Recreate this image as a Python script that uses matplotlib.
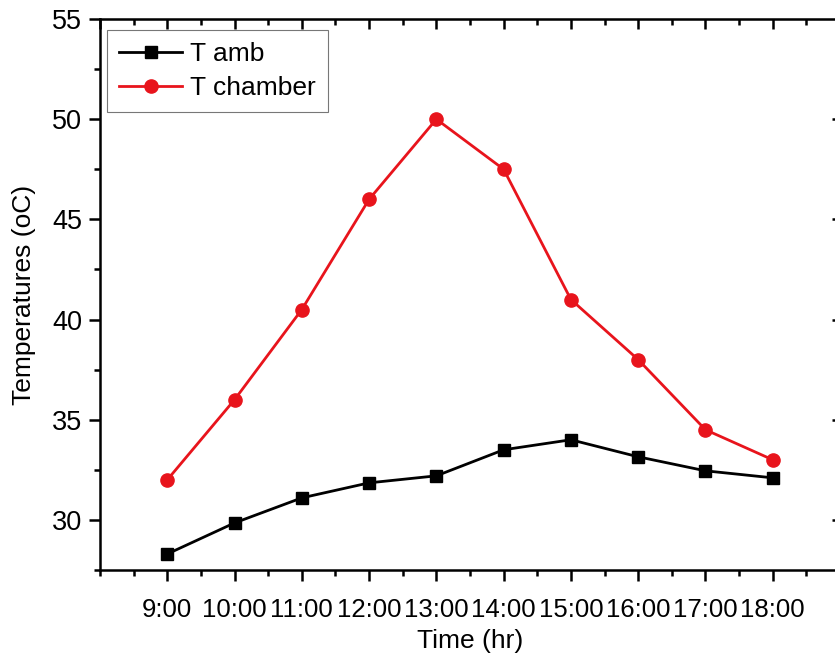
import matplotlib.pyplot as plt
from matplotlib.ticker import MultipleLocator

plt.rcParams['font.family'] = ['Liberation Sans', 'DejaVu Sans']

hours = [9, 10, 11, 12, 13, 14, 15, 16, 17, 18]
hour_labels = ['9:00', '10:00', '11:00', '12:00', '13:00',
               '14:00', '15:00', '16:00', '17:00', '18:00']
t_amb = [28.3, 29.85, 31.1, 31.85, 32.2, 33.5, 34.0, 33.15, 32.45, 32.1]
t_chamber = [32.0, 36.0, 40.5, 46.0, 50.0, 47.5, 41.0, 38.0, 34.5, 33.0]

fig = plt.figure(figsize=(8.35, 6.66), dpi=100)
# axes runs a little past the right edge, like the cropped original
ax = fig.add_axes([100 / 835, 96 / 666, 740 / 835, 551 / 666])

ax.plot(hours, t_amb, '-s', color='black', lw=2, ms=8.5, label='T amb')
ax.plot(hours, t_chamber, '-o', color='#e8141c', lw=2, ms=9.5, label='T chamber')

ax.set_xlim(8, 19)
ax.set_ylim(27.5, 55)
ax.set_xticks(hours)
ax.set_xticklabels(hour_labels)
ax.xaxis.set_minor_locator(MultipleLocator(0.5))
ax.yaxis.set_major_locator(MultipleLocator(5))
ax.yaxis.set_minor_locator(MultipleLocator(2.5))

for s in ax.spines.values():
    s.set_linewidth(1.8)

ax.tick_params(axis='both', which='major', labelsize=18.5, width=1.8, length=8)
ax.tick_params(axis='y', which='major', labelsize=19.5)
ax.tick_params(axis='both', which='minor', width=1.8, length=4.5)
ax.tick_params(axis='x', which='both', direction='out', pad=12)
ax.tick_params(axis='y', which='both', direction='out', pad=5)

# secondary axes for inward ticks on top and right
top = ax.secondary_xaxis('top')
top.set_xticks(hours + [8, 19])
top.xaxis.set_minor_locator(MultipleLocator(0.5))
top.tick_params(which='major', direction='in', length=7, width=1.8, labeltop=False)
top.tick_params(which='minor', direction='in', length=4, width=1.8)
top.set_xticklabels([])
right = ax.secondary_yaxis('right')
right.set_yticks([30, 35, 40, 45, 50])
right.tick_params(direction='in', length=6, width=1.8, labelright=False)
right.set_yticklabels([])

ax.set_xlabel('Time (hr)', fontsize=19, labelpad=5)
ax.set_ylabel('Temperatures (oC)', fontsize=19, labelpad=11)

leg = ax.legend(loc='upper left', fontsize=19, frameon=True, fancybox=False,
                bbox_to_anchor=(7 / 740, 1 - 11 / 551), borderaxespad=0,
                handlelength=2.4, handletextpad=0.3,
                borderpad=0.45, labelspacing=0.38)
leg.get_frame().set_edgecolor('#555555')
leg.get_frame().set_linewidth(0.8)

fig.savefig('out.png', dpi=100)
